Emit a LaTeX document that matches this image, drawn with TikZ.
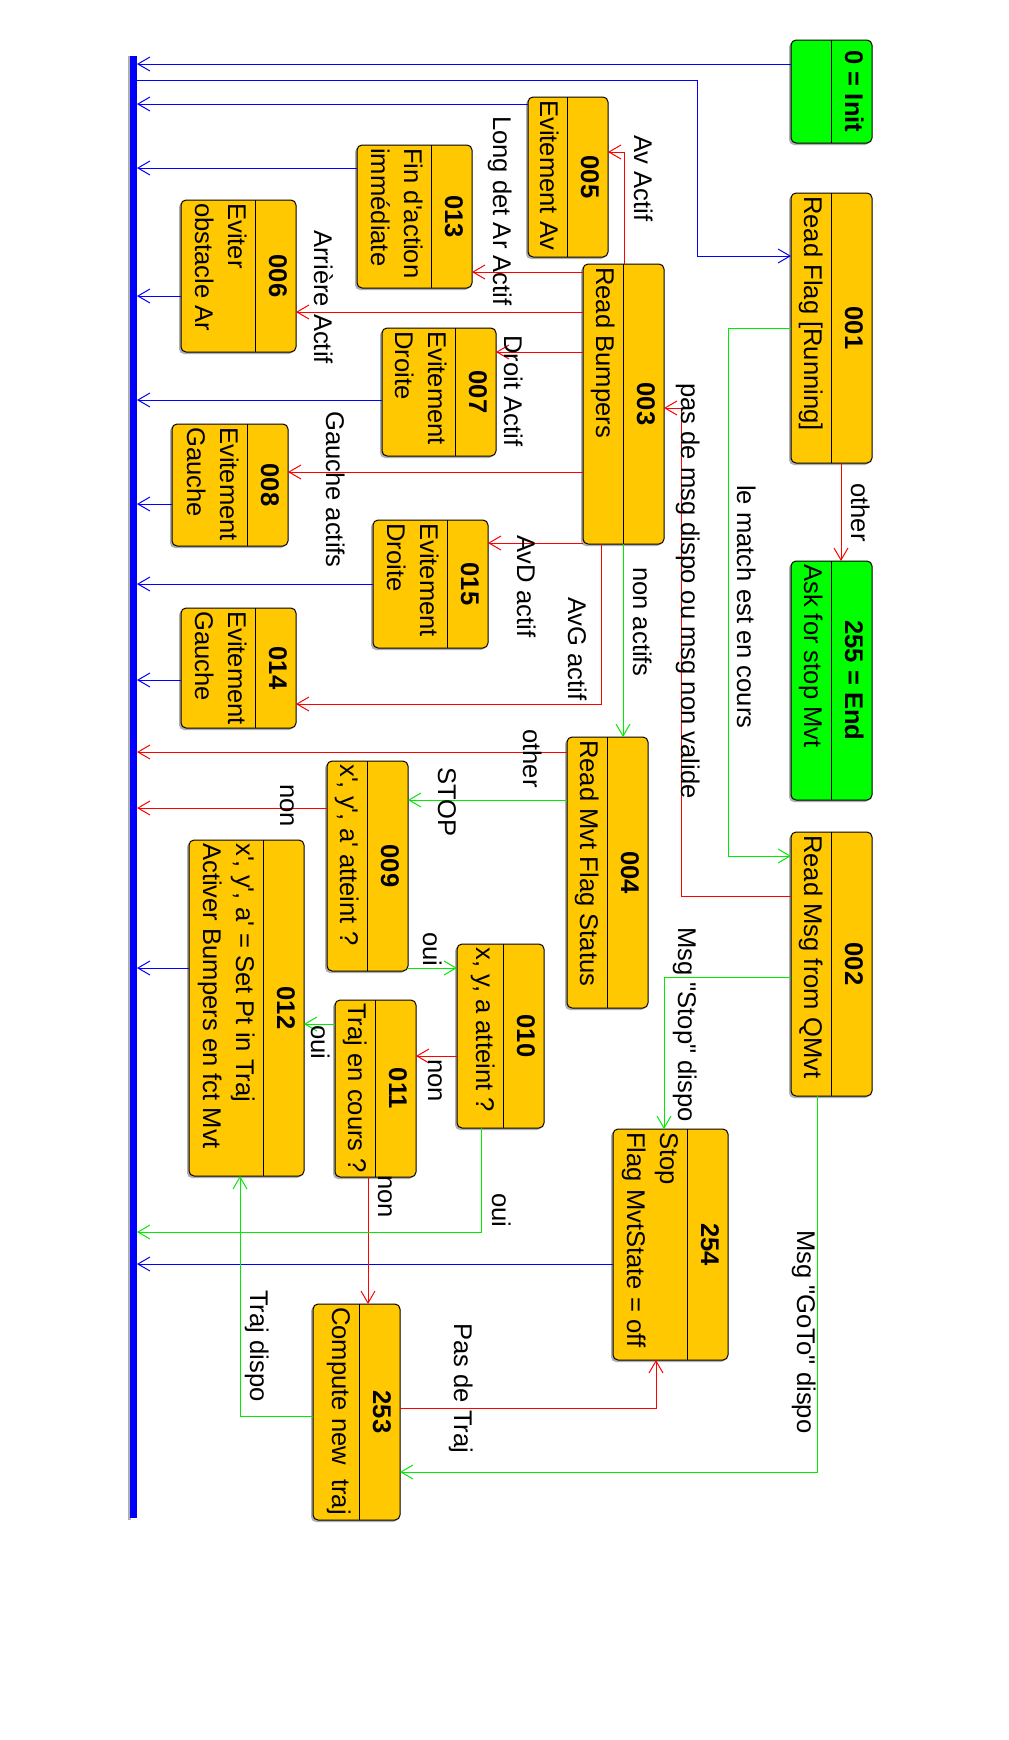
\documentclass[tikz,border=0pt]{standalone}
\usepackage{fontspec}
\setmainfont{Liberation Sans}[Ligatures=TeXOff]
\usetikzlibrary{arrows.meta}
\definecolor{orng}{RGB}{255,200,0}
\definecolor{grn}{RGB}{0,255,0}
\definecolor{lgrn}{RGB}{0,235,0}
\definecolor{shadowc}{RGB}{175,175,175}
\newcommand{\fs}{\fontsize{25.6}{30}\selectfont}
\tikzset{
  box/.style={draw=black, line width=1pt, rounded corners=5pt, inner sep=0pt, outer sep=0pt},
  hdr/.style={rotate=-90, anchor=base, inner sep=0pt, font=\fs\bfseries},
  bodyt/.style={rotate=-90, anchor=base west, inner sep=0pt, font=\fs},
  lbl/.style={rotate=-90, anchor=base west, inner sep=0pt, font=\fs},
  tip/.style={-{Straight Barb[length=12pt,width=14pt]}},
  bl/.style={draw=blue, line width=1pt, tip},
  rd/.style={draw=red, line width=1pt, tip},
  gr/.style={draw=lgrn, line width=1pt, tip},
}
% name, fill, xl, xr, yt, yb, header, line1, line2
\newcommand{\stbox}[9]{%
  \fill[shadowc, rounded corners=5pt] ({#3-2},{#5+2}) rectangle ({#4-2},{#6+2});
  \node[box, fill=#2, minimum width={#4-#3}, minimum height={#6-#5}] (#1) at ({(#3+#4)/2},{(#5+#6)/2}) {};
  \draw[line width=1pt] ({#4-41},#5) -- ({#4-41},#6);
  \node[hdr] (#1h) at ({#4-27},{(#5+#6)/2}) {#7};
  \node[bodyt] (#1a) at ({#4-68},{#5+3}) {#8};
  \node[bodyt] (#1b) at ({#4-101},{#5+3}) {#9};
}
\begin{document}
\begin{tikzpicture}[x=1pt,y=-1pt]
\useasboundingbox[fill=white] (0,0) rectangle (1009,1740);
% bus
\fill[shadowc] (128,56) rectangle (131,1520);
\node[fill=blue, inner sep=0pt, outer sep=0pt, minimum width=7, minimum height=1462] (bus) at (133.5,787) {};
% boxes
\stbox{nInit}{grn}{791}{872}{40}{143}{0 = Init}{}{}
\stbox{n001}{orng}{791}{872}{193}{463}{001}{Read Flag [Running]}{}
\stbox{n255}{grn}{791}{872}{561}{800}{255 = End}{Ask for stop Mvt}{}
\stbox{n002}{orng}{791}{872}{832}{1096}{002}{Read Msg from QMvt}{}
\stbox{n005}{orng}{528}{608}{97}{257}{005}{Evitement Av}{}
\stbox{n013}{orng}{357}{472}{145}{288}{013}{Fin d'action}{immédiate}
\stbox{n006}{orng}{181}{296}{200}{352}{006}{Eviter}{obstacle Ar}
\stbox{n003}{orng}{583}{664}{264}{544}{003}{Read Bumpers}{}
\stbox{n007}{orng}{382}{496}{328}{456}{007}{Evitement}{Droite}
\stbox{n008}{orng}{172}{288}{424}{546}{008}{Evitement}{Gauche}
\stbox{n015}{orng}{373}{488}{520}{648}{015}{Evitement}{Droite}
\stbox{n014}{orng}{181}{296}{608}{728}{014}{Evitement}{Gauche}
\stbox{n004}{orng}{567}{648}{737}{1008}{004}{Read Mvt Flag Status}{}
\stbox{n009}{orng}{327}{408}{761}{971}{009}{x', y', a' atteint ?}{}
\stbox{n012}{orng}{189}{304}{840}{1176}{012}{x', y', a' = Set Pt in Traj}{Activer Bumpers en fct Mvt}
\stbox{n010}{orng}{457}{544}{944}{1128}{010}{x, y, a atteint ?}{}
\stbox{n011}{orng}{335}{416}{1000}{1177}{011}{Traj en cours ?}{}
\stbox{n254}{orng}{613}{728}{1129}{1360}{254}{Stop}{Flag MvtState = off}
\stbox{n253}{orng}{313}{400}{1304}{1520}{253}{Compute new\ \ traj}{}
% blue connectors
\draw[bl] (nInit.west |- 0,64) -- (bus.east |- 0,64);
\draw[bl] (bus.east |- 0,80) -- (697,80) -- (697,256) -- (n001.west |- 0,256);
\draw[bl] (n005.west |- 0,104) -- (bus.east |- 0,104);
\draw[bl] (n013.west |- 0,168) -- (bus.east |- 0,168);
\draw[bl] (n006.west |- 0,296) -- (bus.east |- 0,296);
\draw[bl] (n007.west |- 0,400) -- (bus.east |- 0,400);
\draw[bl] (n008.west |- 0,504) -- (bus.east |- 0,504);
\draw[bl] (n015.west |- 0,584) -- (bus.east |- 0,584);
\draw[bl] (n014.west |- 0,680) -- (bus.east |- 0,680);
\draw[bl] (n012.west |- 0,968) -- (bus.east |- 0,968);
\draw[bl] (n254.west |- 0,1264) -- (bus.east |- 0,1264);
% red connectors
\draw[rd] (n004.west |- 0,752) -- (bus.east |- 0,752);
\draw[rd] (n009.west |- 0,808) -- (bus.east |- 0,808);
\draw[rd] (n003.north -| 624,0) -- (624,152) -- (n005.east |- 0,152);
\draw[rd] (n003.west |- 0,272) -- (n013.east |- 0,272);
\draw[rd] (n003.west |- 0,312) -- (n006.east |- 0,312);
\draw[rd] (n003.west |- 0,352) -- (n007.east |- 0,352);
\draw[rd] (n003.west |- 0,472) -- (n008.east |- 0,472);
\draw[rd] (n003.west |- 0,543) -- (n015.east |- 0,543);
\draw[rd] (n003.south -| 601,0) -- (601,704) -- (n014.east |- 0,704);
\draw[rd] (n002.west |- 0,896) -- (681,896) -- (681,408) -- (n003.east |- 0,408);
\draw[rd] (n001.south -| 841,0) -- (n255.north -| 841,0);
\draw[rd] (n010.west |- 0,1056) -- (n011.east |- 0,1056);
\draw[rd] (n011.south -| 368,0) -- (n253.north -| 368,0);
\draw[rd] (n253.east |- 0,1408) -- (656,1408) -- (n254.south -| 656,0);
% green connectors
\draw[gr] (n001.west |- 0,328) -- (728,328) -- (728,856) -- (n002.west |- 0,856);
\draw[gr] (n003.south -| 623,0) -- (n004.north -| 623,0);
\draw[gr] (n004.west |- 0,800) -- (n009.east |- 0,800);
\draw[gr] (n009.east |- 0,968) -- (n010.west |- 0,968);
\draw[gr] (n011.west |- 0,1024) -- (n012.east |- 0,1024);
\draw[gr] (n010.south -| 481,0) -- (481,1232) -- (bus.east |- 0,1232);
\draw[gr] (n253.west |- 0,1416) -- (240,1416) -- (n012.south -| 240,0);
\draw[gr] (n002.west |- 0,977) -- (664,977) -- (n254.north -| 664,0);
\draw[gr] (n002.south -| 817,0) -- (817,1472) -- (n253.east |- 0,1472);
% labels
\node[lbl] (lAv) at (634,135) {Av Actif};
\node[lbl] (lLong) at (493,116) {Long det Ar Actif};
\node[lbl] (lArr) at (314,230) {Arrière Actif};
\node[lbl] (lDroit) at (504,335) {Droit Actif};
\node[lbl] (lGauche) at (326,411) {Gauche actifs};
\node[lbl] (lPas) at (681,383) {pas de msg dispo ou msg non valide};
\node[lbl] (lMatch) at (737,485) {le match est en cours};
\node[lbl] (lOther1) at (851,483) {other};
\node[lbl] (lNonAct) at (633,567) {non actifs};
\node[lbl] (lAvD) at (517,535) {AvD actif};
\node[lbl] (lAvG) at (568,597) {AvG actif};
\node[lbl] (lOther2) at (523,729) {other};
\node[lbl] (lStop) at (438,767) {STOP};
\node[lbl] (lNon1) at (280,784) {non};
\node[lbl] (lOui1) at (423,932) {oui};
\node[lbl] (lOui2) at (311,1025) {oui};
\node[lbl] (lNon2) at (428,1059) {non};
\node[lbl] (lNon3) at (378,1175) {non};
\node[lbl] (lOui3) at (492,1193) {oui};
\node[lbl] (lTraj) at (250,1290) {Traj dispo};
\node[lbl] (lPasTraj) at (454,1323) {Pas de Traj};
\node[lbl] (lMsgStop) at (678,927) {Msg "Stop" dispo};
\node[lbl] (lMsgGoTo) at (797,1230) {Msg "GoTo" dispo};
\end{tikzpicture}
\end{document}
